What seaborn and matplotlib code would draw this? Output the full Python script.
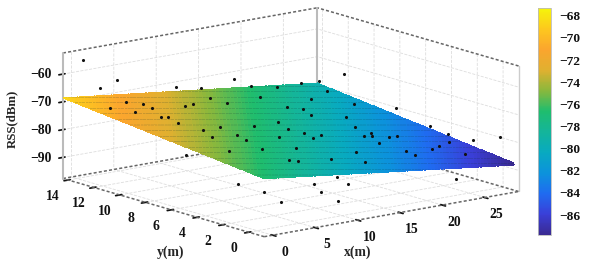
import numpy as np
import seaborn as sns
import matplotlib.pyplot as plt
from matplotlib.cm import ScalarMappable
from matplotlib.colors import Normalize

# plane corners
plane_x = [-1, 29]
plane_y = [-1.2, 14.4]
plane_z = [[-76.7, -88.0], [-68.6, -79.5]]

# measured points
pts_x = [0.5, 1.7, 2.9, 9.9, 12.8, 16.7, 19.5, 21.8, 23.9, 25.2, 26.7, 25.2, 25.4, 25.2, 26.7, 28.6,
         1.3, 4.6, 2.9, 5.8, 5.5, 4.3, 4.9, 4.3, 9.7, 11.0, 14.2, 5.3, 4.4, 7.9, 14.8, 7.7, 7.1, 11.7,
         19.7, 2.6, 6.4, 19.9, 15.1, 14.4, 11.4, 10.4, 6.3, 6.9, 28.2, 24.4, 21.1, 20.5, 27.7, 23.4,
         21.7, 15.0, 14.5, 16.3, 20.3, 21.9, 21.1, 22.7, 23.8, 20.2, 27.6, 25.7, 24.1, 20.9, 20.7,
         26.2, 15.3, 11.1, 13.8, 2.0, 5.0, 6.6, 5.5, 13.7, 12.5, 13.4, 10.3, 10.8, 24.7]
pts_y = [13.8, 13.3, 12.8, 12.8, 12.8, 12.8, 13.3, 12.8, 12.3, 11.8, 10.8, 5.8, 3.3, 1.8, 0.8, 0.0,
         12.3, 13.2, 11.4, 12.7, 11.8, 10.3, 10.1, 9.0, 12.0, 12.2, 13.0, 7.7, 6.4, 8.1, 12.1, 6.6, 5.5, 7.9,
         12.7, 3.9, 3.8, 10.8, 8.3, 7.1, 5.8, 3.8, 1.7, 1.4, 13.1, 11.9, 10.3, 9.3, 10.7, 8.5,
         6.7, 6.2, 5.2, 5.8, 5.1, 5.6, 5.0, 4.7, 4.8, 3.8, 3.3, 2.8, 2.3, 2.2, 1.4,
         1.1, 2.4, 1.6, 0.7, 6.8, 4.8, 3.8, 1.8, 2.8, 3.8, 1.8, 1.8, 0.8, 0.8]
pts_z = [-55.0, -65.1, -62.2, -68.5, -70.5, -69.3, -74.0, -75.0, -74.0, -73.3, -70.2, -75.0, -78.2, -79.0, -80.6, -79.2,
         -70.6, -71.3, -71.7, -72.1, -72.4, -72.7, -73.0, -73.4, -73.9, -74.3, -75.0, -74.5, -74.8, -75.3, -75.8, -76.0, -76.3, -76.8,
         -77.3, -75.5, -76.9, -78.4, -77.9, -78.2, -77.8, -78.4, -77.9, -78.3, -80.3, -79.5, -79.0, -79.4, -81.3, -80.9,
         -81.2, -78.9, -79.2, -79.6, -81.4, -81.8, -81.8, -82.5, -82.9, -82.1, -85.2, -84.7, -84.4, -83.2, -83.5,
         -85.8, -80.9, -79.9, -81.3, -80.4, -90.1, -92.2, -92.5, -89.3, -92.5, -90.3, -91.5, -94.0, -93.6]

x_ticks = [0, 5, 10, 15, 20, 25]
y_ticks = [0, 2, 4, 6, 8, 10, 12, 14]
z_ticks = [-90, -80, -70, -60]
cbar_ticks = [-86, -84, -82, -80, -78, -76, -74, -72, -70, -68]
cmap_colors = ['#3a2a92', '#3a3fd8', '#1f6cf0', '#0c93dc', '#08aac0', '#14b59a', '#1fbd6e',
               '#8ab83c', '#e0b030', '#fba52e', '#fdc81e', '#f5f50a']

sns.set_theme(style='white')
plt.rcParams['font.family'] = 'Liberation Serif'
plt.rcParams['font.weight'] = 'bold'
plt.rcParams['hatch.linewidth'] = 0.12
plt.rcParams['hatch.color'] = '#103030'
plt.rcParams['patch.edgecolor'] = '#103030'

W, H = 589, 265
xlim, ylim, zlim = (-1, 29), (-1.2, 14.4), (-97.6, -52.4)
vmin, vmax = -87.8, -67.3
parula = sns.blend_palette(cmap_colors, as_cmap=True)
norm = Normalize(vmin, vmax)

fig = plt.figure(figsize=(W / 100, H / 100), dpi=100)
S = 500
ax = fig.add_axes([(284 - S / 2) / W, 1 - (129 + S / 2) / H, S / W, S / H],
                  projection='3d', proj_type='ortho', computed_zorder=False)
ax.patch.set_alpha(0)
ax.view_init(elev=13.1, azim=-128.1)
ax.set_box_aspect((321, 324, 128), zoom=0.926)

# box outline, behind the plane
x0, x1 = xlim
y0, y1 = ylim
z0, z1 = zlim
dash = dict(color='#666666', lw=1.1, ls=(0, (2, 1.4)), zorder=0.5)
ax.plot([x0, x1], [y1, y1], [z1, z1], **dash)
ax.plot([x1, x1], [y0, y1], [z1, z1], **dash)
ax.plot([x0, x1], [y1, y1], [z0, z0], **dash)
ax.plot([x1, x1], [y0, y1], [z0, z0], **dash)
ax.plot([x0, x1], [y0, y0], [z0, z0], **dash)
ax.plot([x0, x0], [y0, y1], [z0, z0], **dash)
ax.plot([x0, x0], [y1, y1], [z0, z1], color='#bbbbbb', lw=1.5, zorder=0.5)
ax.plot([x1, x1], [y1, y1], [z0, z1], color='#bbbbbb', lw=1.5, zorder=0.5)
ax.plot([x1, x1], [y0, y0], [z0, z1], color='#cccccc', lw=1.0, zorder=0.5)

X, Y = np.meshgrid(plane_x, plane_y)
levels = np.linspace(vmin, vmax, 140)
ax.contourf(X, Y, np.array(plane_z), levels=levels, cmap=parula, norm=norm,
            antialiased=False, hatches=['---'], zorder=1)

ax.scatter(pts_x, pts_y, pts_z, color='#111111', s=5, depthshade=False, linewidths=0, zorder=3)

ax.set_xlim(xlim)
ax.set_ylim(ylim)
ax.set_zlim(zlim)
ax.set_xticks(x_ticks)
ax.set_yticks(y_ticks)
ax.set_zticks(z_ticks)
ax.tick_params(labelsize=9.8, pad=3, length=2, colors='#111111')
ax.zaxis.set_tick_params(pad=1)
for axis in (ax.xaxis, ax.yaxis, ax.zaxis):
    axis.set_pane_color((1, 1, 1, 0))
    axis.pane.set_edgecolor('none')
    axis.line.set_color('none')
    axis._axinfo['grid'].update(color='#dddddd', linewidth=0.6, linestyle='--')
plt.setp(ax.get_zticklabels(), va='center_baseline')

fig.text(358 / W, 1 - 252 / H, 'x(m)', ha='center', va='center', fontsize=9.8)
fig.text(171 / W, 1 - 252 / H, 'y(m)', ha='center', va='center', fontsize=9.8)
fig.text(12 / W, 1 - 119 / H, 'RSS(dBm)', ha='center', va='center', rotation=90, fontsize=9.2)

cax = fig.add_axes([538 / W, 1 - 235 / H, 13 / W, 227 / H])
cb = fig.colorbar(ScalarMappable(norm=norm, cmap=parula), cax=cax, ticks=cbar_ticks)
cb.outline.set_edgecolor('#bbbbbb')
cb.outline.set_linewidth(0.6)
cax.tick_params(labelsize=9.6, length=0, pad=6, colors='#111111')

fig.savefig('out.png', dpi=100)
